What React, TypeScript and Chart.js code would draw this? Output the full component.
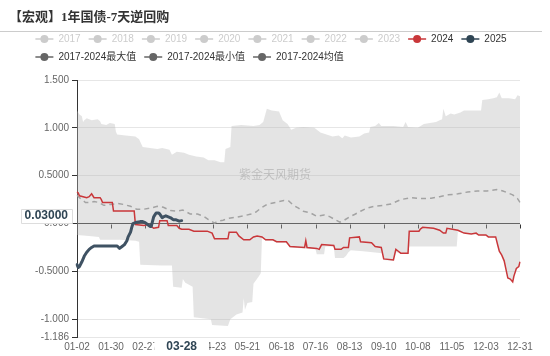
import React, { useEffect, useRef } from "react";
import { Chart, registerables } from "chart.js";

Chart.register(...registerables);

// ---------- text ----------
const TITLE = "【宏观】1年国债-7天逆回购";
const WATERMARK = "紫金天风期货";
const LEGEND_ROW1 = ["2017", "2018", "2019", "2020", "2021", "2022", "2023", "2024", "2025"];
const LEGEND_ROW2 = ["2017-2024最大值", "2017-2024最小值", "2017-2024均值"];
const POINTER_DATE = "03-28";
const POINTER_VALUE = 0.03;

// ---------- categories / ticks ----------
const DATES: string[] = (() => {
  const out: string[] = [];
  const d = new Date(Date.UTC(2024, 0, 2));
  while (d.getUTCFullYear() === 2024) {
    const m = String(d.getUTCMonth() + 1).padStart(2, "0");
    const dd = String(d.getUTCDate()).padStart(2, "0");
    out.push(`${m}-${dd}`);
    d.setUTCDate(d.getUTCDate() + 1);
  }
  return out;
})();
const X_TICK_LABELS = ["01-02", "01-30", "02-27", "03-26", "04-23", "05-21", "06-18", "07-16", "08-13", "09-10", "10-08", "11-05", "12-03", "12-31"];
const Y_TICKS = [-1.186, -1, -0.5, 0, 0.5, 1, 1.5];

// ---------- series ----------
const MAX_2017_2024: [string, number][] = [
  ["01-02", 1.18], ["01-04", 1.14], ["01-06", 1.12], ["01-07", 1.06], ["01-08", 1.08], ["01-10", 1.1],
  ["01-14", 1.08], ["01-19", 1.09], ["01-21", 1.07], ["01-22", 1.04], ["01-26", 1.03], ["01-29", 1.05],
  ["02-02", 1.04], ["02-03", 0.96], ["02-04", 0.93], ["02-11", 0.92], ["02-19", 0.91], ["02-22", 0.88],
  ["02-25", 0.8], ["03-02", 0.79], ["03-08", 0.78], ["03-12", 0.79], ["03-18", 0.77], ["03-20", 0.72],
  ["03-24", 0.75], ["03-30", 0.74], ["04-03", 0.72], ["04-09", 0.7], ["04-15", 0.69], ["04-19", 0.66],
  ["04-24", 0.66], ["04-29", 0.64], ["05-02", 0.64], ["05-03", 0.78], ["05-07", 0.8], ["05-08", 1.02],
  ["05-16", 1.03], ["05-26", 1.02], ["05-31", 1.03], ["06-03", 1.06], ["06-06", 1.2], ["06-10", 1.18],
  ["06-16", 1.17], ["06-19", 1.08], ["06-23", 1.04], ["06-26", 0.98], ["06-30", 1.0], ["07-06", 1.01],
  ["07-15", 1.0], ["07-20", 0.95], ["07-25", 0.93], ["07-30", 0.91], ["08-04", 0.92], ["08-07", 0.89],
  ["08-09", 0.92], ["08-14", 0.9], ["08-21", 0.91], ["08-25", 0.94], ["08-29", 0.95], ["08-30", 1.01],
  ["09-03", 1.02], ["09-06", 1.05], ["09-08", 1.02], ["09-18", 1.02], ["09-26", 1.01], ["09-28", 1.06],
  ["09-30", 1.01], ["10-08", 1.0], ["10-13", 1.04], ["10-18", 1.05], ["10-23", 1.06], ["10-26", 1.08],
  ["10-28", 1.09], ["10-29", 1.2], ["10-31", 1.12], ["11-04", 1.15], ["11-07", 1.14], ["11-12", 1.16],
  ["11-15", 1.18], ["11-22", 1.18], ["11-29", 1.18], ["11-30", 1.29], ["12-05", 1.3], ["12-09", 1.31],
  ["12-12", 1.32], ["12-14", 1.37], ["12-16", 1.31], ["12-22", 1.31], ["12-27", 1.3], ["12-29", 1.34],
  ["12-31", 1.33],
];

const MIN_2017_2024: [string, number][] = [
  ["01-02", -0.12], ["01-12", -0.13], ["01-20", -0.14], ["01-21", -0.17], ["02-06", -0.17], ["02-19", -0.18],
  ["02-22", -0.19], ["02-23", -0.43], ["03-12", -0.44], ["03-20", -0.44], ["03-21", -0.66], ["03-28", -0.67],
  ["03-29", -0.58], ["03-31", -0.62], ["04-06", -0.66], ["04-07", -0.98], ["04-21", -1.0], ["04-22", -1.06],
  ["05-05", -1.07], ["05-07", -1.0], ["05-12", -0.95], ["05-17", -0.93], ["05-18", -0.78], ["05-19", -0.9],
  ["05-21", -0.83], ["05-25", -0.82], ["05-26", -0.63], ["05-30", -0.56], ["06-01", -0.52], ["06-02", -0.15],
  ["06-05", -0.18], ["06-11", -0.18], ["06-14", -0.2], ["06-22", -0.2], ["06-25", -0.25], ["07-07", -0.26],
  ["07-16", -0.27], ["07-17", -0.32], ["07-23", -0.32], ["07-24", -0.24], ["07-31", -0.24], ["08-01", -0.36],
  ["08-08", -0.36], ["08-10", -0.34], ["08-12", -0.3], ["08-14", -0.28], ["08-24", -0.29], ["09-01", -0.3],
  ["09-09", -0.31], ["09-10", -0.38], ["09-18", -0.39], ["09-20", -0.3], ["09-24", -0.31], ["09-30", -0.32],
  ["10-01", -0.24], ["11-09", -0.24], ["11-10", -0.08], ["11-15", -0.1], ["11-21", -0.11], ["11-27", -0.12],
  ["12-03", -0.13], ["12-11", -0.15], ["12-13", -0.24], ["12-14", -0.29], ["12-16", -0.33], ["12-18", -0.39],
  ["12-19", -0.45], ["12-21", -0.57], ["12-23", -0.58], ["12-25", -0.61], ["12-26", -0.55], ["12-28", -0.47],
  ["12-30", -0.45], ["12-31", -0.4],
];

const MEAN_2017_2024: [string, number][] = [
  ["01-02", 0.295], ["01-04", 0.27], ["01-06", 0.25], ["01-09", 0.22], ["01-13", 0.22], ["01-16", 0.23],
  ["01-20", 0.22], ["01-24", 0.19], ["01-30", 0.2], ["02-04", 0.21], ["02-09", 0.2], ["02-15", 0.18],
  ["02-20", 0.15], ["02-26", 0.15], ["03-02", 0.16], ["03-08", 0.18], ["03-13", 0.17], ["03-19", 0.135],
  ["03-24", 0.13], ["03-29", 0.14], ["04-04", 0.1], ["04-10", 0.1], ["04-15", 0.077], ["04-19", 0.04],
  ["04-22", 0.02], ["04-24", 0.005], ["04-27", 0.025], ["05-01", 0.035], ["05-06", 0.055], ["05-12", 0.066],
  ["05-18", 0.08], ["05-24", 0.1], ["05-28", 0.12], ["06-01", 0.16], ["06-06", 0.2], ["06-13", 0.22],
  ["06-20", 0.24], ["06-24", 0.235], ["06-28", 0.19], ["07-02", 0.16], ["07-06", 0.128], ["07-12", 0.11],
  ["07-17", 0.076], ["07-23", 0.09], ["07-28", 0.07], ["08-01", 0.04], ["08-05", 0.014], ["08-08", 0.03],
  ["08-13", 0.07], ["08-17", 0.094], ["08-22", 0.128], ["08-27", 0.16], ["09-02", 0.18], ["09-10", 0.19],
  ["09-16", 0.205], ["09-24", 0.25], ["10-02", 0.27], ["10-10", 0.26], ["10-19", 0.265], ["10-26", 0.28],
  ["11-02", 0.3], ["11-10", 0.31], ["11-18", 0.33], ["11-26", 0.34], ["12-04", 0.34], ["12-12", 0.355],
  ["12-17", 0.34], ["12-21", 0.32], ["12-25", 0.3], ["12-29", 0.26], ["12-31", 0.22],
];

const Y2024: [string, number][] = [
  ["01-02", 0.33], ["01-03", 0.32], ["01-04", 0.29], ["01-07", 0.28], ["01-10", 0.27], ["01-12", 0.28],
  ["01-14", 0.31], ["01-15", 0.29], ["01-16", 0.27], ["01-21", 0.27], ["01-22", 0.25], ["01-23", 0.22],
  ["01-31", 0.22], ["02-01", 0.13], ["02-18", 0.13], ["02-19", -0.01], ["02-26", -0.02], ["02-29", -0.01],
  ["03-03", -0.03], ["03-05", -0.05], ["03-09", -0.04], ["03-10", 0.03], ["03-16", 0.03], ["03-17", -0.02],
  ["03-24", -0.02], ["03-26", -0.05], ["03-28", -0.06], ["04-03", -0.06], ["04-07", -0.08], ["04-18", -0.08],
  ["04-22", -0.1], ["04-24", -0.16], ["05-05", -0.16], ["05-06", -0.09], ["05-12", -0.09], ["05-14", -0.13],
  ["05-18", -0.17], ["05-23", -0.17], ["05-26", -0.14], ["05-29", -0.13], ["06-02", -0.14], ["06-05", -0.17],
  ["06-11", -0.17], ["06-14", -0.19], ["06-22", -0.19], ["06-25", -0.24], ["07-07", -0.25], ["07-08", -0.18],
  ["07-09", -0.25], ["07-17", -0.26], ["07-19", -0.27], ["07-21", -0.22], ["07-31", -0.23], ["08-01", -0.27],
  ["08-06", -0.27], ["08-08", -0.25], ["08-12", -0.25], ["08-13", -0.15], ["08-21", -0.14], ["08-22", -0.19],
  ["08-31", -0.2], ["09-03", -0.24], ["09-08", -0.25], ["09-10", -0.37], ["09-18", -0.38], ["09-20", -0.27],
  ["09-22", -0.29], ["09-24", -0.31], ["09-30", -0.31], ["10-01", -0.08], ["10-09", -0.08], ["10-10", -0.06],
  ["10-12", -0.04], ["10-21", -0.05], ["10-26", -0.07], ["10-29", -0.1], ["10-31", -0.1], ["11-01", -0.05],
  ["11-10", -0.07], ["11-15", -0.1], ["11-21", -0.11], ["11-25", -0.1], ["11-27", -0.12], ["12-03", -0.12],
  ["12-05", -0.14], ["12-11", -0.14], ["12-13", -0.24], ["12-14", -0.29], ["12-16", -0.33], ["12-18", -0.39],
  ["12-19", -0.45], ["12-21", -0.57], ["12-23", -0.58], ["12-25", -0.61], ["12-26", -0.55], ["12-28", -0.47],
  ["12-30", -0.45], ["12-31", -0.4],
];

const Y2025: [string, number][] = [
  ["01-02", -0.43], ["01-03", -0.46], ["01-04", -0.45], ["01-06", -0.4], ["01-08", -0.34], ["01-10", -0.3],
  ["01-12", -0.27], ["01-14", -0.25], ["01-16", -0.235], ["02-04", -0.235], ["02-06", -0.26], ["02-08", -0.24],
  ["02-10", -0.22], ["02-12", -0.18], ["02-13", -0.14], ["02-15", -0.09], ["02-16", -0.04], ["02-17", 0.0],
  ["02-19", 0.01], ["02-23", 0.02], ["02-25", 0.02], ["02-27", 0.01], ["02-29", -0.01], ["03-02", -0.03],
  ["03-03", -0.03], ["03-04", 0.02], ["03-05", 0.07], ["03-06", 0.09], ["03-07", 0.11], ["03-09", 0.11],
  ["03-10", 0.1], ["03-11", 0.08], ["03-12", 0.06], ["03-13", 0.07], ["03-15", 0.08], ["03-17", 0.07],
  ["03-19", 0.06], ["03-21", 0.04], ["03-23", 0.04], ["03-25", 0.03], ["03-26", 0.025], ["03-28", 0.03],
];

// ---------- styles ----------
const C = {
  red: "#c9373a",
  dark: "#2f4554",
  line2025: "#3f5263",
  mean: "#a3a3a3",
  band: "rgba(185,185,185,0.38)",
  grid: "#e6e6e6",
  axis: "#333333",
  label: "#666666",
  inactive: "#cccccc",
  stat: "#666666",
  text: "#333333",
};
const SANS = "'Liberation Sans', 'Noto Sans CJK SC', sans-serif";

const toPts = (arr: [string, number][]) => arr.map(([x, y]) => ({ x, y }));

const decor = {
  id: "decor",
  beforeDatasetsDraw(chart: any) {
    const { ctx, scales } = chart;
    const x = scales.x;
    const y0 = Math.round(scales.y.getPixelForValue(0)) + 0.5;
    ctx.save();
    ctx.strokeStyle = C.axis;
    ctx.lineWidth = 1;
    ctx.beginPath();
    x.ticks.forEach((_t: any, i: number) => {
      const px = Math.round(x.getPixelForTick(i)) + 0.5;
      ctx.moveTo(px, y0);
      ctx.lineTo(px, y0 + 4);
    });
    ctx.stroke();
    ctx.restore();
  },
  afterDraw(chart: any) {
    const { ctx, chartArea, scales } = chart;
    ctx.save();
    // watermark
    ctx.font = "12px 'Noto Sans CJK SC', sans-serif";
    ctx.fillStyle = "rgba(110,110,110,0.3)";
    ctx.textAlign = "center";
    ctx.textBaseline = "middle";
    ctx.fillText(WATERMARK, chart.width / 2, 174);

    // title
    ctx.textAlign = "left";
    ctx.font = "bold 13px 'Liberation Serif', 'Noto Sans CJK SC', serif";
    ctx.fillStyle = C.text;
    ctx.fillText(TITLE, 9, 18);
    ctx.strokeStyle = "#cccccc";
    ctx.lineWidth = 1;
    ctx.beginPath();
    ctx.moveTo(0, 31.5);
    ctx.lineTo(542, 31.5);
    ctx.stroke();

    // legend
    ctx.font = `10px ${SANS}`;
    const ICON = 18, GAP_T = 5, GAP_I = 8;
    const itemW = (s: string) => ICON + GAP_T + ctx.measureText(s).width + GAP_I;
    const row1W = LEGEND_ROW1.reduce((a, s) => a + itemW(s), 0) - GAP_I;
    const startX = 271 - row1W / 2;
    const drawRow = (labels: string[], colors: string[], textColors: string[], cy: number) => {
      let px = startX;
      labels.forEach((s, i) => {
        ctx.strokeStyle = colors[i];
        ctx.lineWidth = 1.5;
        ctx.beginPath();
        ctx.moveTo(px, cy);
        ctx.lineTo(px + ICON, cy);
        ctx.stroke();
        ctx.fillStyle = colors[i];
        ctx.beginPath();
        ctx.arc(px + ICON / 2, cy, 4, 0, Math.PI * 2);
        ctx.fill();
        ctx.fillStyle = textColors[i];
        ctx.textBaseline = "middle";
        ctx.fillText(s, px + ICON + GAP_T, cy + 0.5);
        px += itemW(s);
      });
    };
    const r1c = LEGEND_ROW1.map((s) => (s === "2024" ? C.red : s === "2025" ? C.dark : C.inactive));
    const r1t = LEGEND_ROW1.map((s) => (s === "2024" || s === "2025" ? C.text : C.inactive));
    drawRow(LEGEND_ROW1, r1c, r1t, 39);
    drawRow(LEGEND_ROW2, LEGEND_ROW2.map(() => C.stat), LEGEND_ROW2.map(() => C.text), 57);

    // axis pointer labels
    ctx.font = `bold 12px ${SANS}`;
    const xs = scales.x, ys = scales.y;
    const px = xs.getPixelForValue(DATES.indexOf(POINTER_DATE));
    const tw = ctx.measureText(POINTER_DATE).width;
    const bw = tw + 24;
    ctx.fillStyle = "#ffffff";
    ctx.fillRect(px - bw / 2, chartArea.bottom + 1, bw, 19);
    ctx.fillStyle = C.dark;
    ctx.textAlign = "center";
    ctx.textBaseline = "middle";
    ctx.fillText(POINTER_DATE, px, chartArea.bottom + 10);

    const vtxt = POINTER_VALUE.toFixed(5);
    const vw = ctx.measureText(vtxt).width + 8;
    const vh = 14;
    const right = chartArea.left - 5;
    const cy = ys.getPixelForValue(POINTER_VALUE) - 5;
    ctx.fillStyle = "#ffffff";
    ctx.strokeStyle = "#dddddd";
    ctx.lineWidth = 1;
    ctx.beginPath();
    ctx.rect(Math.round(right - vw) + 0.5, Math.round(cy - vh / 2) + 0.5, Math.round(vw), vh);
    ctx.fill();
    ctx.stroke();
    ctx.fillStyle = C.dark;
    ctx.fillText(vtxt, right - vw / 2, cy + 0.5);
    ctx.restore();
  },
};

export default function App() {
  const ref = useRef<HTMLCanvasElement | null>(null);
  useEffect(() => {
    if (!ref.current) return;
    const line = (label: string, arr: [string, number][], extra: any) => ({
      label,
      data: toPts(arr),
      pointRadius: 0,
      tension: 0,
      fill: false,
      ...extra,
    });
    const chart = new Chart(ref.current, {
      type: "line",
      data: {
        labels: DATES,
        datasets: [
          line("2025", Y2025, { borderColor: C.line2025, borderWidth: 3, borderJoinStyle: "round", borderCapStyle: "round" }),
          line("2024", Y2024, { borderColor: C.red, borderWidth: 1.5 }),
          line("2017-2024均值", MEAN_2017_2024, { borderColor: C.mean, borderWidth: 1.5, borderDash: [5, 4] }),
          line("2017-2024最大值", MAX_2017_2024, { borderColor: "rgba(0,0,0,0)", borderWidth: 0, fill: "+1", backgroundColor: C.band }),
          line("2017-2024最小值", MIN_2017_2024, { borderColor: "rgba(0,0,0,0)", borderWidth: 0 }),
        ],
      },
      options: {
        responsive: false,
        animation: false,
        devicePixelRatio: 1,
        events: [],
        layout: { padding: { top: 80, left: 0, right: 30, bottom: 0 } },
        plugins: { legend: { display: false }, title: { display: false }, tooltip: { enabled: false } },
        scales: {
          x: {
            type: "category",
            offset: false,
            grid: { display: false, drawTicks: false, tickLength: 0 },
            border: { display: false },
            afterBuildTicks: (s: any) => {
              s.ticks = s.ticks.filter((t: any) => X_TICK_LABELS.includes(DATES[t.value]));
            },
            afterFit: (s: any) => {
              s.height = 19;
            },
            ticks: {
              autoSkip: false,
              maxRotation: 0,
              padding: 4,
              color: C.label,
              font: { family: SANS, size: 10 },
              callback: (v: any) => DATES[v as number],
            },
          },
          y: {
            type: "linear",
            min: Y_TICKS[0],
            max: Y_TICKS[Y_TICKS.length - 1],
            afterBuildTicks: (s: any) => {
              s.ticks = Y_TICKS.map((v) => ({ value: v }));
            },
            afterFit: (s: any) => {
              s.width = 77;
            },
            border: { display: true, color: C.axis, width: 1 },
            grid: {
              color: (c: any) => (c.tick && c.tick.value === 0 ? C.axis : C.grid),
              tickColor: C.axis,
              tickLength: 5,
            },
            ticks: {
              padding: 3,
              color: C.label,
              font: { family: SANS, size: 10 },
              callback: (v: any) => Number(v).toPrecision(4),
            },
          },
        },
      },
      plugins: [decor],
    } as any);
    return () => chart.destroy();
  }, []);
  return (
    <div style={{ position: "fixed", left: 0, top: 0, width: 550, height: 356, background: "#fff" }}>
      <canvas ref={ref} width={550} height={356} style={{ display: "block" }} />
    </div>
  );
}
